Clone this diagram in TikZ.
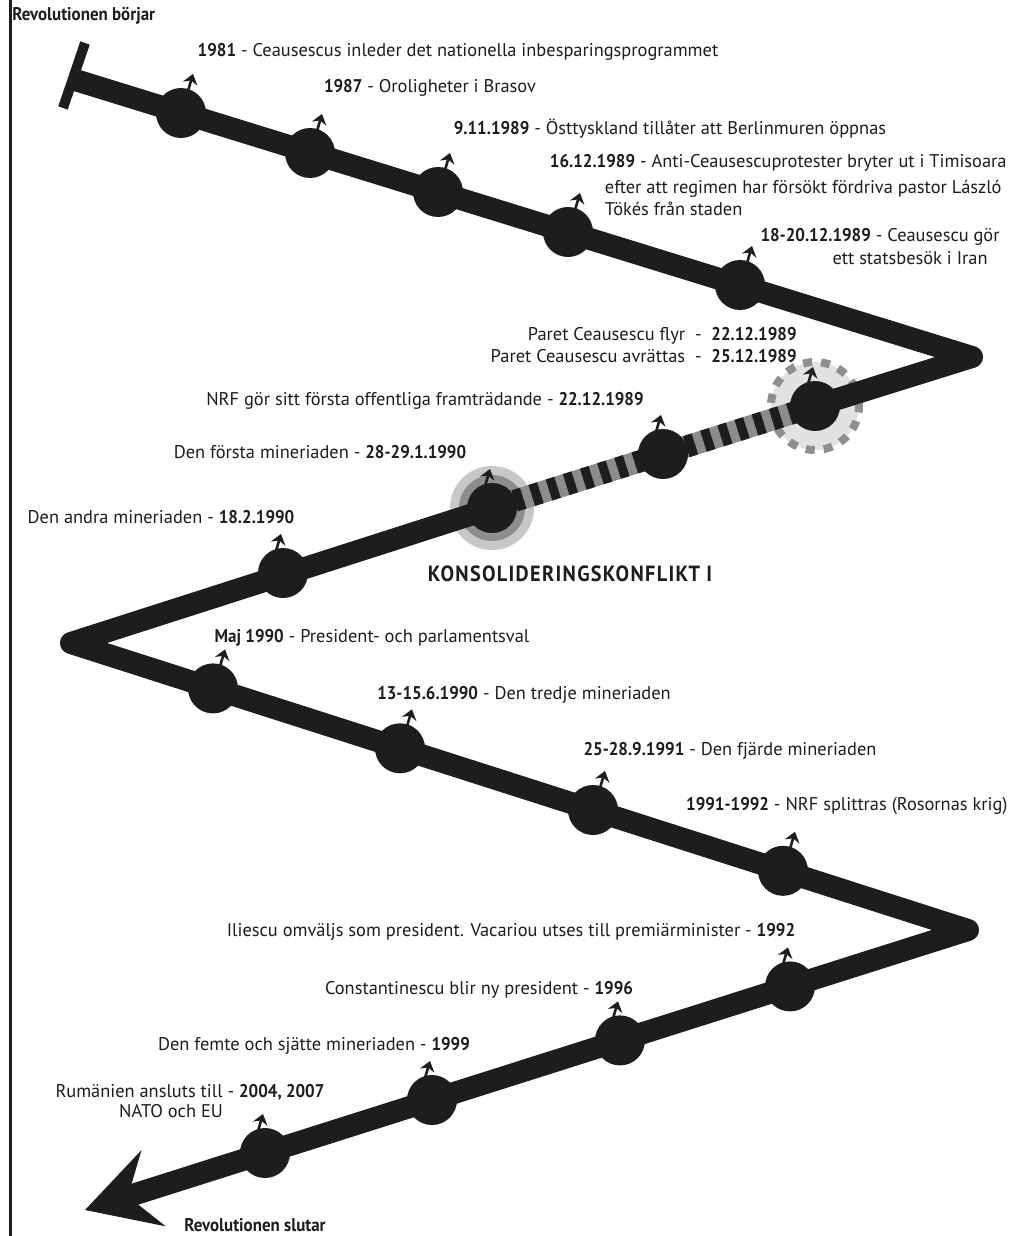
\documentclass[tikz,border=0pt]{standalone}
\usepackage{fontspec}
\setmainfont{PT Sans}[BoldFeatures={FakeStretch=0.92}]
\usetikzlibrary{calc,arrows.meta}
\definecolor{ink}{HTML}{1D1D1B}
\definecolor{stripegray}{HTML}{8C8C8C}
\definecolor{halolight}{HTML}{C8C8C8}
\definecolor{halodark}{HTML}{8E8E8E}
\definecolor{ringfill}{HTML}{E2E2E2}
\definecolor{ringdash}{HTML}{8F8F8F}
\begin{document}
\begin{tikzpicture}[x=0.5pt,y=-0.5pt,
  mainline/.style={line width=11pt, draw=ink, line join=round},
  stripeline/.style={line width=11pt, draw=ink, dash pattern=on 4.5pt off 4.5pt},
  graybase/.style={line width=11pt, draw=stripegray},
  dot/.style={circle, fill=ink, minimum size=25pt, inner sep=0pt},
  evarrow/.style={draw=ink, line width=1.3pt, -{Stealth[length=5pt,width=7.5pt]}},
  lbl/.style={anchor=base, inner sep=0pt, font=\fontsize{9.2pt}{11pt}\selectfont, text=ink},
  lblw/.style={lbl, anchor=base west},
  lble/.style={lbl, anchor=base east},
  ttl/.style={lbl, font=\fontsize{9.2pt}{11pt}\selectfont\bfseries}]
\useasboundingbox (0,0) rectangle (1013,1236);
\fill[white] (0,0) rectangle (1013,1236);
\draw[ink, line width=1.5pt] (10,0) -- (10,1236);

% path vertices
\coordinate (S) at (72,79);
\coordinate (R1) at (972,357);
\coordinate (L1) at (71,643);
\coordinate (R2) at (968,930);
\coordinate (tip) at (85,1210);
\coordinate (ub) at (141.5,1150.1);
\coordinate (N) at (127.9,1196.4);
\coordinate (lb) at (165.7,1226.3);
\coordinate (tb1) at (85,43);
\coordinate (tb2) at (63,108);

% dot positions
\coordinate (p1) at (181,113);
\coordinate (p2) at (310,153);
\coordinate (p3) at (438,192);
\coordinate (p4) at (568,232);
\coordinate (p5) at (740,285);
\coordinate (p6) at (815,406);
\coordinate (p7) at (663,454);
\coordinate (p8) at (492,508);
\coordinate (p9) at (283,573);
\coordinate (p10) at (213,688.4);
\coordinate (p11) at (400,748.3);
\coordinate (p12) at (593,810);
\coordinate (p13) at (783,870.8);
\coordinate (p14) at (790,986.4);
\coordinate (p15) at (620,1040.4);
\coordinate (p16) at (432,1100);
\coordinate (p17) at (265,1153);

% highlight rings
\fill[halolight] (p8) circle (21pt);
\fill[halodark] (p8) circle (16.5pt);
\draw[fill=ringfill, draw=ringdash, line width=4pt, dash pattern=on 4.5pt off 4.5pt] (p6) circle (22pt);

% the timeline
\draw[ink, line width=5pt] (tb1) -- (tb2);
\draw[mainline] (S) -- (R1) -- (p6);
\draw[graybase] (p6) -- (p8);
\draw[stripeline] (p6) -- (p8);
\draw[mainline] (p8) -- (L1) -- (R2) -- (N);
\fill[ink] (tip) -- (ub) -- (N) -- (lb) -- cycle;

% dots
\foreach \i in {1,...,17} { \node[dot] (d\i) at (p\i) {}; }

% event arrows
\foreach \i in {1,2,3,4,5,10,11,12,13} { \draw[evarrow] ($(d\i.center)+(7,-22)$) -- ++(5,-17); }
\foreach \i in {6,7,8,9,14,15,16,17} { \draw[evarrow] ($(d\i.center)+(-7,-22)$) -- ++(5,-17); }

% labels
\node[ttl, anchor=base west] (r0) at (12,21) {Revolutionen börjar};
\node[lbl] (t1) at (458,57) {\textbf{1981} - Ceausescus inleder det nationella inbesparingsprogrammet};
\node[lbl] (t2) at (430,93) {\textbf{1987} - Oroligheter i Brasov};
\node[lbl] (t3) at (670,134) {\textbf{9.11.1989} - Östtyskland tillåter att Berlinmuren öppnas};
\node[lble] (t4a) at (1007,168) {\textbf{16.12.1989} - Anti-Ceausescuprotester bryter ut i Timisoara};
\node[lble] (t4b) at (1002,193) {efter att regimen har försökt fördriva pastor László};
\node[lblw] (t4c) at ($(t4b.base west)+(0,22)$) {Tökés från staden};
\node[lble] (t5a) at (1000,241) {\textbf{18-20.12.1989} - Ceausescu gör};
\node[lble] (t5b) at (988,264) {ett statsbesök i Iran};
\node[lble] (t6a) at (797,340) {Paret Ceausescu flyr\ \ -\ \ \textbf{22.12.1989}};
\node[lble] (t6b) at (797,362) {Paret Ceausescu avrättas\ \ -\ \ \textbf{25.12.1989}};
\node[lbl] (t7) at (425,405) {NRF gör sitt första offentliga framträdande - \textbf{22.12.1989}};
\node[lbl] (t8) at (320,458) {Den första mineriaden - \textbf{28-29.1.1990}};
\node[lbl] (t9) at (161,523) {Den andra mineriaden - \textbf{18.2.1990}};
\node[lbl, font=\fontsize{11pt}{13pt}\selectfont\bfseries\addfontfeature{LetterSpace=6}] (t10) at (570,581) {KONSOLIDERINGSKONFLIKT I};
\node[lbl] (t11) at (372,642) {\textbf{Maj 1990} - President- och parlamentsval};
\node[lbl] (t12) at (524,699) {\textbf{13-15.6.1990} - Den tredje mineriaden};
\node[lbl] (t13) at (730,755) {\textbf{25-28.9.1991} - Den fjärde mineriaden};
\node[lble] (t14) at (1008,810) {\textbf{1991-1992} - NRF splittras (Rosornas krig)};
\node[lbl] (t15) at (511,936) {Iliescu omväljs som president. Vacariou utses till premiärminister - \textbf{1992}};
\node[lbl] (t16) at (479,994) {Constantinescu blir ny president - \textbf{1996}};
\node[lbl] (t17) at (314,1050) {Den femte och sjätte mineriaden - \textbf{1999}};
\node[lbl] (t18a) at (190,1097) {Rumänien ansluts till - \textbf{2004, 2007}};
\node[lbl] (t18b) at (171,1117) {NATO och EU};
\node[ttl] (r1) at (255,1231) {Revolutionen slutar};
\end{tikzpicture}
\end{document}
